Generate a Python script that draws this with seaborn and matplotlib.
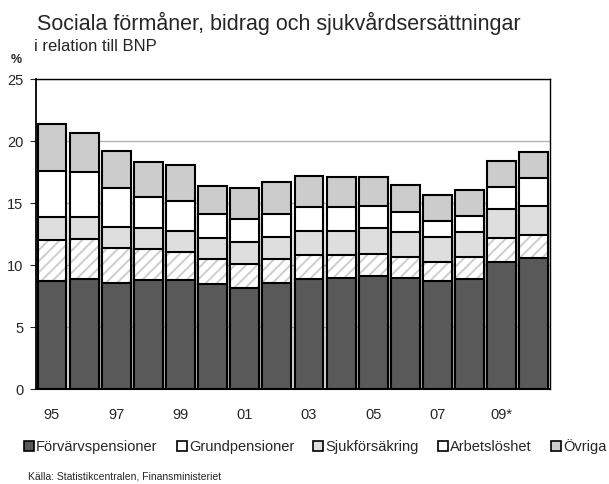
import matplotlib
matplotlib.use("Agg")
import matplotlib.pyplot as plt
from matplotlib.patches import Patch
import numpy as np
import pandas as pd
import seaborn as sns

# values, % of GDP
years = ["95", "96", "97", "98", "99", "00", "01", "02",
         "03", "04", "05", "06", "07", "08", "09*", "10"]
forvarv = [8.7, 8.9, 8.6, 8.8, 8.8, 8.5, 8.2, 8.6, 8.9, 9.0, 9.1, 9.0, 8.7, 8.9, 10.3, 10.6]
grund = [3.3, 3.2, 2.8, 2.5, 2.3, 2.0, 1.9, 1.9, 1.9, 1.8, 1.8, 1.7, 1.6, 1.8, 1.9, 1.8]
sjuk = [1.9, 1.8, 1.7, 1.7, 1.7, 1.7, 1.8, 1.8, 2.0, 2.0, 2.1, 2.0, 2.0, 2.0, 2.3, 2.4]
arbets = [3.7, 3.6, 3.1, 2.5, 2.4, 1.9, 1.8, 1.8, 1.9, 1.9, 1.8, 1.6, 1.3, 1.3, 1.8, 2.2]
ovriga = [3.8, 3.2, 3.0, 2.8, 2.9, 2.3, 2.5, 2.6, 2.5, 2.4, 2.3, 2.2, 2.1, 2.1, 2.1, 2.1]

labels = ["Förvärvspensioner", "Grundpensioner", "Sjukförsäkring", "Arbetslöshet", "Övriga"]
tick_labels = ["95", "97", "99", "01", "03", "05", "07", "09*"]

df = pd.DataFrame({"year": years, "forvarv": forvarv, "grund": grund,
                   "sjuk": sjuk, "arbets": arbets, "ovriga": ovriga})
df["c1"] = df["forvarv"]
df["c2"] = df["c1"] + df["grund"]
df["c3"] = df["c2"] + df["sjuk"]
df["c4"] = df["c3"] + df["arbets"]
df["c5"] = df["c4"] + df["ovriga"]

sns.set_style("white")
plt.rcParams["font.family"] = ["Liberation Sans", "DejaVu Sans"]
plt.rcParams["hatch.linewidth"] = 1.4

fig = plt.figure(figsize=(6.09, 4.84), dpi=100)
ax = fig.add_axes([0.059, 0.196, 0.844, 0.640])

bar_kw = dict(width=0.9, edgecolor="black", linewidth=1.5, ax=ax, order=years)

# stacked bars drawn as overlapping cumulative totals, top layer first
sns.barplot(data=df, x="year", y="c5", color="#cccccc", **bar_kw)
sns.barplot(data=df, x="year", y="c4", color="white", **bar_kw)
sns.barplot(data=df, x="year", y="c3", color="#dedede", **bar_kw)
sns.barplot(data=df, x="year", y="c2", color="white", width=0.9, edgecolor="#cdcdcd",
            hatch="///", linewidth=0, ax=ax, order=years)
sns.barplot(data=df, x="year", y="c2", color="black", fill=False, width=0.9,
            linewidth=1.5, ax=ax, order=years)
sns.barplot(data=df, x="year", y="c1", color="#595959", **bar_kw)

ax.set_xlim(-0.5, len(years) - 0.5)
ax.set_ylim(0, 25)
ax.set_yticks([0, 5, 10, 15, 20, 25])
ax.set_xticks(range(0, len(years), 2))
ax.set_xticklabels(tick_labels)
ax.set_xlabel("")
ax.set_ylabel("")
ax.tick_params(axis="y", left=True, length=4, width=0.8, pad=5, labelsize=10.5)
ax.tick_params(axis="x", bottom=False, pad=10, labelsize=10.5)
ax.yaxis.grid(True, color="#b4b4b4", linewidth=1)
ax.set_axisbelow(True)
for side in ["left", "bottom", "top", "right"]:
    ax.spines[side].set_color("black")
    ax.spines[side].set_linewidth(1)
ax.spines["left"].set_linewidth(1.3)
ax.spines["bottom"].set_linewidth(1.5)

fig.text(0.061, 0.952, "Sociala förmåner, bidrag och sjukvårdsersättningar",
         fontsize=15.5, va="center", ha="left")
fig.text(0.056, 0.903, "i relation till BNP", fontsize=12, va="center", ha="left")
fig.text(0.018, 0.876, "%", fontsize=9, fontweight="bold", va="center", ha="left")

handles = [Patch(facecolor="#595959", edgecolor="black", linewidth=1.2),
           Patch(facecolor="white", edgecolor="black", linewidth=1.2),
           Patch(facecolor="#dedede", edgecolor="black", linewidth=1.2),
           Patch(facecolor="white", edgecolor="black", linewidth=1.2),
           Patch(facecolor="#cccccc", edgecolor="black", linewidth=1.2)]
fig.legend(handles, labels, loc="center left", bbox_to_anchor=(0.039, 0.077),
           ncol=5, frameon=False, fontsize=10.5, handlelength=0.7, handleheight=0.7,
           handletextpad=0.15, columnspacing=1.3, borderpad=0, borderaxespad=0)

fig.text(0.046, 0.015, "Källa: Statistikcentralen, Finansministeriet",
         fontsize=7.5, va="center", ha="left")

fig.savefig("out.png", dpi=100)
